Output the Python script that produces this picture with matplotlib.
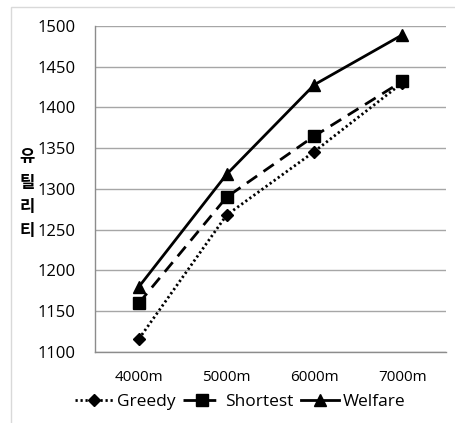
import matplotlib
matplotlib.use("Agg")
import matplotlib.pyplot as plt
from matplotlib.patches import Rectangle

categories = ["4000m", "5000m", "6000m", "7000m"]
greedy = [1116, 1268, 1346, 1430]
shortest = [1160, 1290, 1365, 1432]
welfare = [1180, 1318, 1428, 1489]
yticks = [1100, 1150, 1200, 1250, 1300, 1350, 1400, 1450, 1500]
ylabel = "유틸리티"

plt.rcParams['font.family'] = ['Open Sans', 'Noto Sans CJK KR', 'DejaVu Sans']

fig = plt.figure(figsize=(4.55, 4.23), dpi=100)
W, H = 455, 423
ax = fig.add_axes([95 / W, 1 - 352 / H, (446 - 95) / W, (352 - 26) / H])

x = list(range(len(categories)))
ax.plot(x, greedy, color='black', linestyle=(0, (0.8, 1.0)), linewidth=2,
        marker='D', markersize=6, label='Greedy')
ax.plot(x, shortest, color='black', linestyle=(0, (4.5, 2.8)), linewidth=2,
        marker='s', markersize=8, label='Shortest')
ax.plot(x, welfare, color='black', linestyle='-', linewidth=2,
        marker='^', markersize=8.5, label='Welfare')

ax.set_xlim(-0.5, 3.5)
ax.set_ylim(1100, 1500)
ax.set_yticks(yticks)
ax.set_xticks(x)
ax.set_xticklabels(categories)
ax.yaxis.grid(True, color='#a6a6a6', linewidth=1)
ax.set_axisbelow(True)
for s in ['top', 'right']:
    ax.spines[s].set_visible(False)
for s in ['left', 'bottom']:
    ax.spines[s].set_color('#8c8c8c')
    ax.spines[s].set_linewidth(1)
ax.tick_params(axis='both', length=0, colors='black')
ax.tick_params(axis='y', pad=14, labelsize=12)
ax.tick_params(axis='x', pad=13, labelsize=11)

ypos = [157, 183, 207, 231]
for ch, yp in zip(ylabel, ypos):
    fig.text(27 / W, 1 - yp / H, ch, fontsize=12, fontweight='bold',
             family=['Noto Sans CJK KR'], ha='center', va='center')

leg = fig.legend(handles=ax.get_lines(), loc='center', bbox_to_anchor=(240 / W, 1 - 402 / H),
                 ncol=3, frameon=False, fontsize=12.5, handlelength=2.2, handletextpad=0.2,
                 columnspacing=0.45)

fig.patches.append(Rectangle((11 / W, -0.1), 1.2, 1 - 7 / H + 0.1, transform=fig.transFigure,
                             fill=False, edgecolor='#d9d9d9', linewidth=1))

fig.savefig("out.png", dpi=100)
